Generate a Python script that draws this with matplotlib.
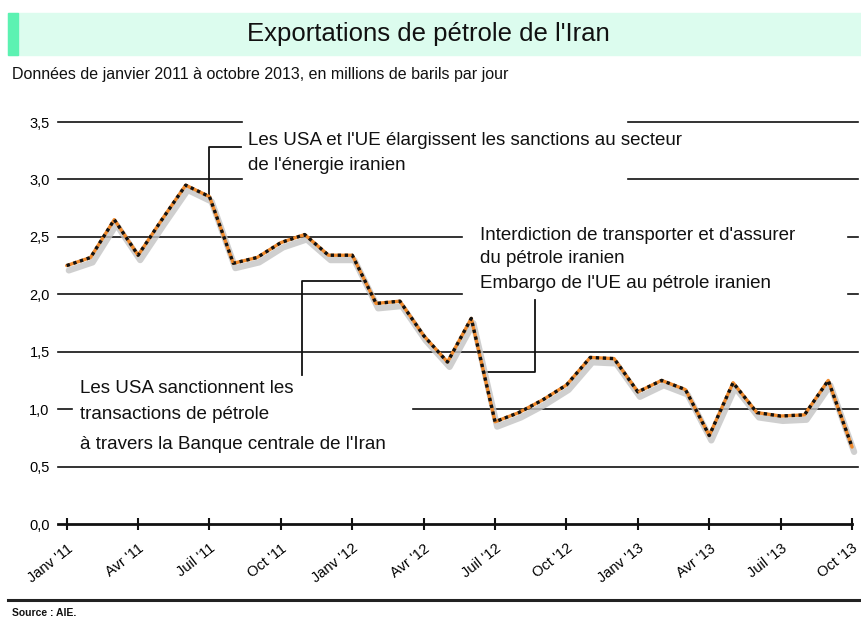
import matplotlib
matplotlib.use('Agg')
import matplotlib.pyplot as plt
import matplotlib.patheffects as pe
from matplotlib.patches import Rectangle
from matplotlib.lines import Line2D

plt.rcParams['font.family'] = ['Liberation Sans', 'DejaVu Sans']

# Exportations mensuelles, janvier 2011 -> octobre 2013 (millions de barils/jour)
exports = [2.25, 2.32, 2.65, 2.34, 2.65, 2.95, 2.85, 2.27, 2.32, 2.45, 2.52, 2.34,
           2.34, 1.92, 1.94, 1.64, 1.41, 1.79, 0.89, 0.97, 1.08, 1.21, 1.45, 1.44,
           1.15, 1.25, 1.17, 0.77, 1.23, 0.97, 0.94, 0.95, 1.25, 0.67]
months = list(range(len(exports)))

tick_months = [0, 3, 6, 9, 12, 15, 18, 21, 24, 27, 30, 33]
tick_labels = ["Janv '11", "Avr '11", "Juil '11", "Oct '11",
               "Janv '12", "Avr '12", "Juil '12", "Oct '12",
               "Janv '13", "Avr '13", "Juil '13", "Oct '13"]
y_ticks = [0.0, 0.5, 1.0, 1.5, 2.0, 2.5, 3.0, 3.5]
y_labels = ['0,0', '0,5', '1,0', '1,5', '2,0', '2,5', '3,0', '3,5']

ann_sanctions_ue = ["Les USA et l'UE élargissent les sanctions au secteur",
                    "de l'énergie iranien"]
ann_embargo = ["Interdiction de transporter et d'assurer",
               "du pétrole iranien",
               "Embargo de l'UE au pétrole iranien"]
ann_banque = ["Les USA sanctionnent les",
              "transactions de pétrole",
              "à travers la Banque centrale de l'Iran"]

fig = plt.figure(figsize=(8.62, 6.23), dpi=100)

# bandeau du titre
fig.patches.append(Rectangle((8 / 862, 1 - 55 / 623), 1 - 8 / 862, 42 / 623,
                             transform=fig.transFigure, color='#dcfcee', zorder=0))
fig.patches.append(Rectangle((8 / 862, 1 - 55 / 623), 10 / 862, 42 / 623,
                             transform=fig.transFigure, color='#5cf2b2', zorder=1))
fig.text(428 / 862, 1 - 34 / 623, "Exportations de pétrole de l'Iran", ha='center', va='center',
         fontsize=18.5, color='#111111')
fig.text(12 / 862, 1 - 75 / 623,
         "Données de janvier 2011 à octobre 2013, en millions de barils par jour",
         ha='left', va='center', fontsize=11.5, color='#111111')

# ligne de séparation + source
fig.lines.append(Line2D([8 / 862, 1], [1 - 600 / 623] * 2, transform=fig.transFigure,
                        color='#222222', lw=2.2))
fig.text(12 / 862, 1 - 613 / 623, "Source : AIE.", ha='left', va='center',
         fontsize=7.5, fontweight='bold', color='#111111')

ax = fig.add_axes([58 / 862, 1 - 524 / 623, 800 / 862, 402 / 623])
ax.set_xlim(-0.366, 33.25)
ax.set_ylim(0, 3.5)

# lignes horizontales (interrompues derrière les annotations)
grid_segments = {
    3.5: [(0, 0.23), (0.7125, 1)],
    3.0: [(0, 0.23), (0.7125, 1)],
    2.5: [(0, 0.505), (0.9875, 1)],
    2.0: [(0, 0.505), (0.9875, 1)],
    1.5: [(0, 1)],
    1.0: [(0, 0.0175), (0.444, 1)],
    0.5: [(0, 1)],
}
for yv, segs in grid_segments.items():
    for x0, x1 in segs:
        ax.axhline(yv, x0, x1, color='#111111', lw=1.2, clip_on=False, zorder=1)

# série
ax.plot(months, exports, color='#f08a2c', lw=2.4, solid_capstyle='round', zorder=3,
        path_effects=[pe.SimpleLineShadow(offset=(1.5, -3.5), shadow_color='#c4c4c4',
                                          alpha=0.8, linewidth=4.5),
                      pe.Normal()])
ax.plot(months, exports, color='#111111', lw=2.4, linestyle=(0, (1.0, 1.1)), zorder=4)

# connecteurs des annotations
ax.plot([7.32, 6.0, 6.0], [3.28, 3.28, 2.85], color='#111111', lw=1.3, zorder=2)
ax.plot([9.9, 9.9, 12.4], [1.30, 2.12, 2.12], color='#111111', lw=1.3, zorder=2)
ax.plot([19.68, 19.68, 17.62], [1.95, 1.32, 1.32], color='#111111', lw=1.3, zorder=2)

text_kw = dict(ha='left', va='center', fontsize=13.5, color='#111111', zorder=5)
for txt, yv in zip(ann_sanctions_ue, [3.34, 3.12]):
    ax.text(7.63, yv, txt, **text_kw)
for txt, yv in zip(ann_embargo, [2.515, 2.315, 2.09]):
    ax.text(17.37, yv, txt, **text_kw)
for txt, yv in zip(ann_banque, [1.18, 0.95, 0.69]):
    ax.text(0.56, yv, txt, **text_kw)

# axes
for side in ['top', 'right', 'left']:
    ax.spines[side].set_visible(False)
ax.spines['bottom'].set_linewidth(2.0)
ax.spines['bottom'].set_color('#111111')
ax.spines['bottom'].set_bounds(-0.366, 33)
ax.set_xticks(tick_months)
ax.set_xticklabels(tick_labels, rotation=38, ha='right', rotation_mode='anchor', fontsize=10.5)
ax.tick_params(axis='x', direction='inout', length=9, width=1.5, color='#111111', pad=8)
ax.set_yticks(y_ticks)
ax.set_yticklabels(y_labels, fontsize=10.5)
ax.tick_params(axis='y', length=0, pad=6)

fig.savefig('out.png', dpi=100)
